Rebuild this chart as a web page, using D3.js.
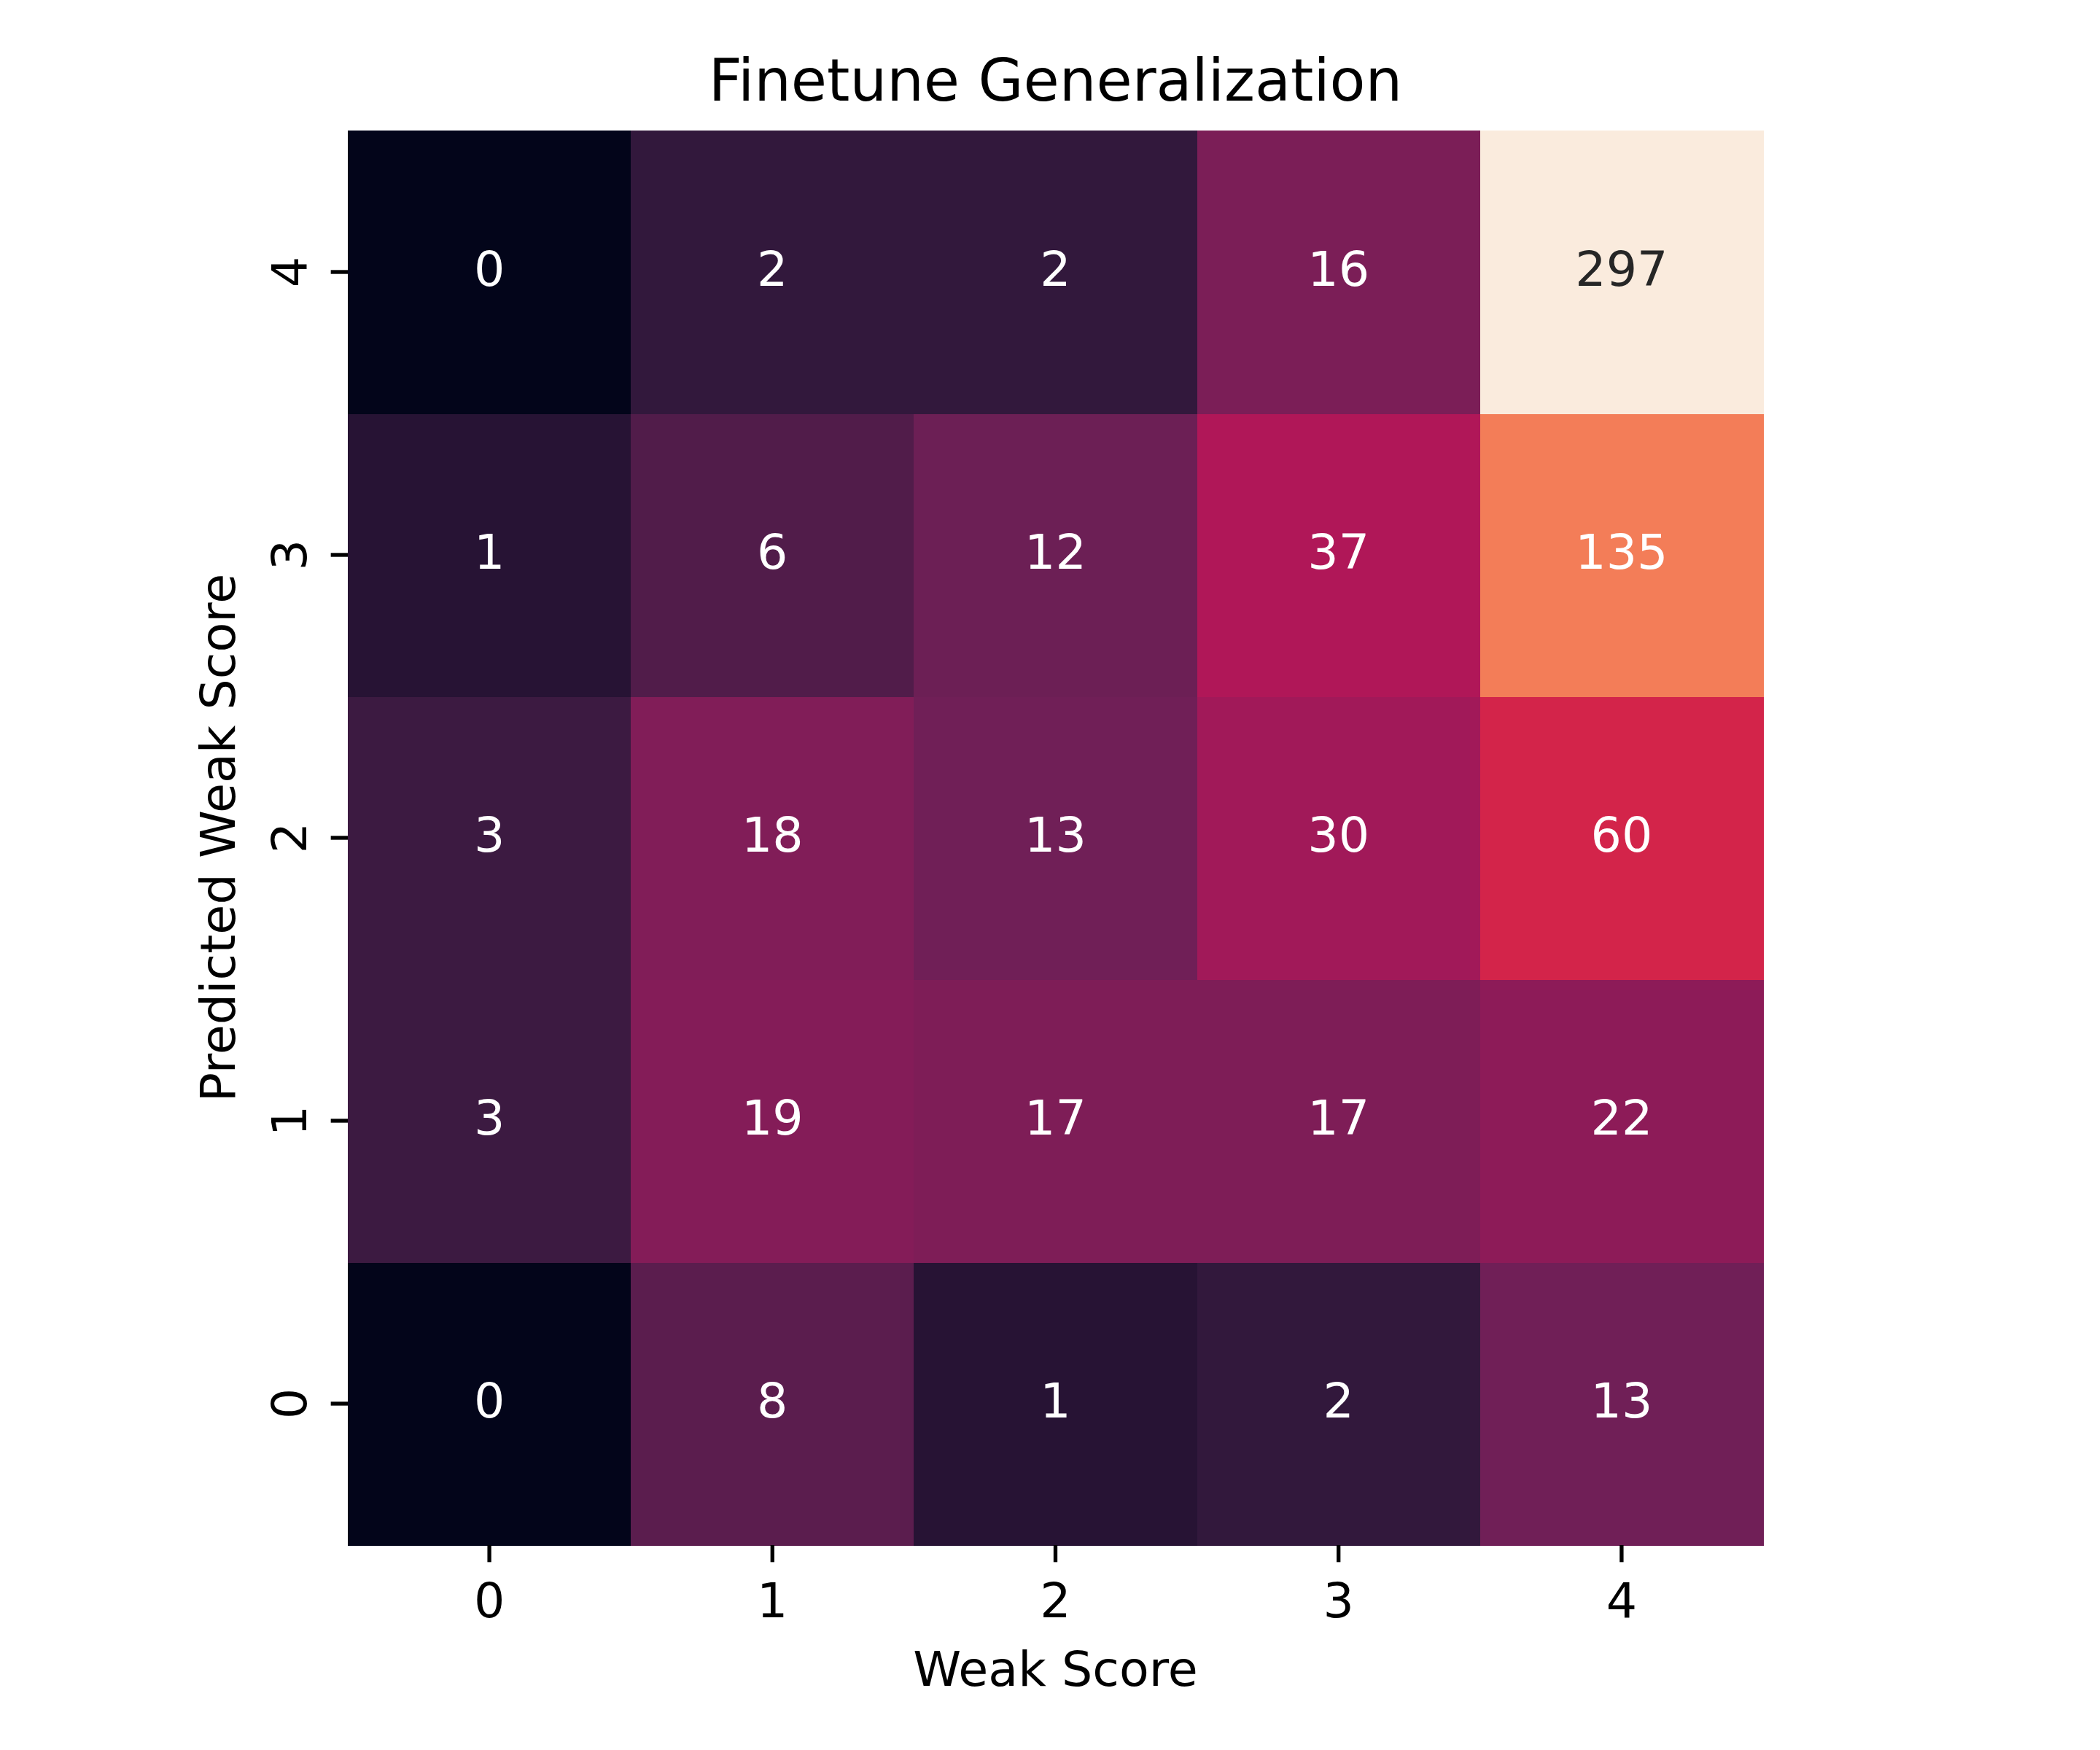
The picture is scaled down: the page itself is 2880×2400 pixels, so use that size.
<!doctype html>
<html lang="en">
  <head>
    <meta charset="UTF-8" />
    <title>Finetune Generalization</title>
    <script src="https://d3js.org/d3.v7.min.js"></script>
    <style>
      body {
        margin: 0;
        padding: 0;
        background: #fff;
        font-family: "DejaVu Sans", sans-serif;
      }
      svg {
        display: block;
      }
    </style>
  </head>
  <body>
    <script>
      // chart data
      const weakScores = ["0", "1", "2", "3", "4"]; // x axis
      const predictedScores = ["0", "1", "2", "3", "4"]; // y axis
      // countsN = predicted weak score N, values across weak scores 0..4
      const counts0 = [0, 8, 1, 2, 13];
      const counts1 = [3, 19, 17, 17, 22];
      const counts2 = [3, 18, 13, 30, 60];
      const counts3 = [1, 6, 12, 37, 135];
      const counts4 = [0, 2, 2, 16, 297];
      const countRows = [counts0, counts1, counts2, counts3, counts4];

      const title = "Finetune Generalization";
      const xTitle = "Weak Score";
      const yTitle = "Predicted Weak Score";

      // seaborn "rocket" colormap, a few sampled stops
      const rocketPos = [0, 1 / 7, 2 / 7, 3 / 7, 0.5, 4 / 7, 5 / 7, 6 / 7, 1];
      const rocketStops = ["#03051a", "#35193e", "#701f57", "#ad1759", "#cb1b4f", "#e13342", "#f37651", "#f6b48f", "#faebdd"];

      const width = 2880;
      const height = 2400;
      const pt = 480 / 72; // px per point
      const fontSize = 10 * pt;

      const plot = { left: 477, right: 2418, top: 179, bottom: 2119 };

      const cells = [];
      countRows.forEach((row, yi) => {
        row.forEach((v, xi) => {
          cells.push({ x: weakScores[xi], y: predictedScores[yi], value: v });
        });
      });

      const maxVal = d3.max(cells, (d) => d.value);

      const x = d3.scaleBand().domain(weakScores).range([plot.left, plot.right]);
      const y = d3
        .scaleBand()
        .domain(predictedScores.slice().reverse())
        .range([plot.top, plot.bottom]);

      // power norm on the counts, then the colormap
      const norm = d3.scalePow().exponent(0.4).domain([0, maxVal]).range([0, 1]).clamp(true);
      const rocket = d3.scaleLinear().domain(rocketPos).range(rocketStops).interpolate(d3.interpolateRgb);
      const color = (v) => rocket(norm(v));

      function textColor(c) {
        const rgb = d3.rgb(c);
        const lin = (u) => {
          u /= 255;
          return u <= 0.03928 ? u / 12.92 : Math.pow((u + 0.055) / 1.055, 2.4);
        };
        const lum = 0.2126 * lin(rgb.r) + 0.7152 * lin(rgb.g) + 0.0722 * lin(rgb.b);
        return lum > 0.408 ? "#262626" : "#ffffff";
      }

      const svg = d3
        .select("body")
        .append("svg")
        .attr("width", width)
        .attr("height", height)
        .attr("viewBox", `0 0 ${width} ${height}`)
        .style("font-family", '"DejaVu Sans", sans-serif');

      svg.append("rect").attr("width", width).attr("height", height).attr("fill", "#fff");

      svg
        .append("g")
        .selectAll("rect")
        .data(cells)
        .join("rect")
        .attr("x", (d) => x(d.x))
        .attr("y", (d) => y(d.y))
        .attr("width", x.bandwidth() + 0.5)
        .attr("height", y.bandwidth() + 0.5)
        .attr("fill", (d) => color(d.value))
        .attr("shape-rendering", "crispEdges");

      svg
        .append("g")
        .attr("text-anchor", "middle")
        .style("font-size", `${fontSize}px`)
        .selectAll("text")
        .data(cells)
        .join("text")
        .attr("x", (d) => x(d.x) + x.bandwidth() / 2)
        .attr("y", (d) => y(d.y) + y.bandwidth() / 2)
        .attr("dy", "0.29em")
        .attr("fill", (d) => textColor(color(d.value)))
        .text((d) => d.value);

      const tickLen = 3.5 * pt;
      const tickPad = 3.5 * pt;

      const xAxis = svg
        .append("g")
        .attr("transform", `translate(0,${plot.bottom})`)
        .call(d3.axisBottom(x).tickSize(tickLen).tickPadding(tickPad));
      xAxis.select(".domain").remove();
      xAxis.selectAll(".tick line").attr("stroke", "#000").attr("stroke-width", 0.8 * pt);
      xAxis
        .selectAll(".tick text")
        .attr("fill", "#000")
        .attr("font-family", '"DejaVu Sans", sans-serif')
        .attr("font-size", fontSize)
        .attr("dy", "0.78em");

      const yAxis = svg
        .append("g")
        .attr("transform", `translate(${plot.left},0)`)
        .call(d3.axisLeft(y).tickSize(tickLen).tickPadding(tickPad));
      yAxis.select(".domain").remove();
      yAxis.selectAll(".tick line").attr("stroke", "#000").attr("stroke-width", 0.8 * pt);
      yAxis
        .selectAll(".tick text")
        .attr("fill", "#000")
        .attr("font-family", '"DejaVu Sans", sans-serif')
        .attr("font-size", fontSize)
        .attr("x", null)
        .attr("dy", null)
        .attr("text-anchor", "middle")
        .attr("transform", `translate(${420 - plot.left},0) rotate(-90)`);

      svg
        .append("text")
        .attr("x", (plot.left + plot.right) / 2)
        .attr("y", 138)
        .attr("text-anchor", "middle")
        .style("font-size", `${12 * pt}px`)
        .attr("fill", "#000")
        .text(title);

      svg
        .append("text")
        .attr("x", (plot.left + plot.right) / 2)
        .attr("y", 2312)
        .attr("text-anchor", "middle")
        .style("font-size", `${fontSize}px`)
        .attr("fill", "#000")
        .text(xTitle);

      svg
        .append("text")
        .attr("transform", `translate(322,${(plot.top + plot.bottom) / 2}) rotate(-90)`)
        .attr("text-anchor", "middle")
        .style("font-size", `${fontSize}px`)
        .attr("fill", "#000")
        .text(yTitle);
    </script>
  </body>
</html>
